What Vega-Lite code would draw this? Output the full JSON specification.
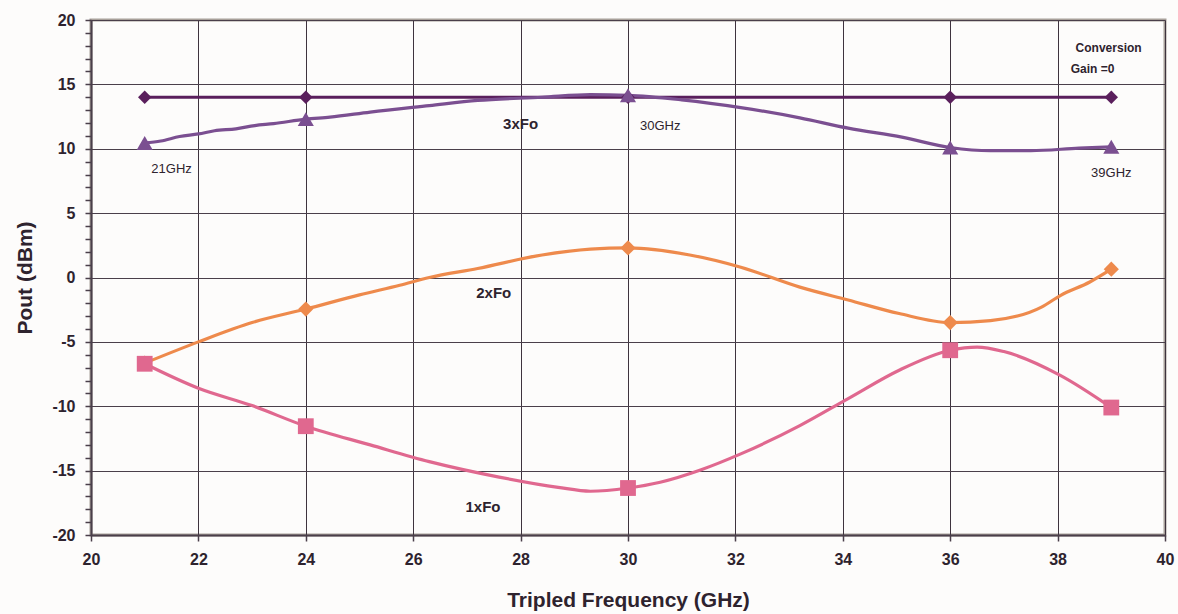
{
  "$schema": "https://vega.github.io/schema/vega-lite/v6.json",
  "width": 1074,
  "height": 515,
  "autosize": {"type": "none"},
  "padding": {"left": 91, "top": 20, "right": 13, "bottom": 79},
  "background": "#fdfcfb",
  "config": {
    "view": {"stroke": "#a8a09a", "strokeWidth": 3},
    "font": "Liberation Sans",
    "axis": {
      "labelFont": "Liberation Sans",
      "titleFont": "Liberation Sans",
      "labelFontWeight": "bold",
      "titleFontWeight": "bold",
      "labelFontSize": 16,
      "titleFontSize": 21,
      "labelColor": "#2e232e",
      "titleColor": "#2e232e",
      "labelFlush": false,
      "labelOverlap": false,
      "domainColor": "#4a3f4a",
      "domainWidth": 2,
      "tickColor": "#4a3f4a",
      "tickWidth": 1.5,
      "gridColor": "#4a3f4a",
      "gridWidth": 1
    }
  },
  "datasets": {
    "curves": [
      {"series": "Conversion Gain", "f": 21, "v": 14},
      {"series": "Conversion Gain", "f": 39, "v": 14},
      {"series": "3xFo", "f": 21, "v": 10.45},
      {"series": "3xFo", "f": 21.3, "v": 10.6},
      {"series": "3xFo", "f": 21.65, "v": 10.95},
      {"series": "3xFo", "f": 22.0, "v": 11.15},
      {"series": "3xFo", "f": 22.3, "v": 11.4},
      {"series": "3xFo", "f": 22.7, "v": 11.55},
      {"series": "3xFo", "f": 23.05, "v": 11.8},
      {"series": "3xFo", "f": 23.4, "v": 11.95},
      {"series": "3xFo", "f": 24, "v": 12.3},
      {"series": "3xFo", "f": 24.45, "v": 12.45},
      {"series": "3xFo", "f": 25.2, "v": 12.85},
      {"series": "3xFo", "f": 26.3, "v": 13.35},
      {"series": "3xFo", "f": 27.2, "v": 13.75},
      {"series": "3xFo", "f": 28.4, "v": 14.0},
      {"series": "3xFo", "f": 29.3, "v": 14.2},
      {"series": "3xFo", "f": 30, "v": 14.15},
      {"series": "3xFo", "f": 31, "v": 13.8},
      {"series": "3xFo", "f": 32.1, "v": 13.2},
      {"series": "3xFo", "f": 33.2, "v": 12.4},
      {"series": "3xFo", "f": 34.1, "v": 11.6},
      {"series": "3xFo", "f": 35.1, "v": 10.9},
      {"series": "3xFo", "f": 36, "v": 10.1},
      {"series": "3xFo", "f": 36.75, "v": 9.85},
      {"series": "3xFo", "f": 37.5, "v": 9.85},
      {"series": "3xFo", "f": 38.4, "v": 10.05},
      {"series": "3xFo", "f": 39, "v": 10.15},
      {"series": "2xFo", "f": 21, "v": -6.65},
      {"series": "2xFo", "f": 22, "v": -5.0},
      {"series": "2xFo", "f": 23, "v": -3.5},
      {"series": "2xFo", "f": 24, "v": -2.45},
      {"series": "2xFo", "f": 25, "v": -1.35},
      {"series": "2xFo", "f": 25.75, "v": -0.6},
      {"series": "2xFo", "f": 26.3, "v": 0.0},
      {"series": "2xFo", "f": 27.2, "v": 0.7},
      {"series": "2xFo", "f": 28.4, "v": 1.75},
      {"series": "2xFo", "f": 29.3, "v": 2.2},
      {"series": "2xFo", "f": 30, "v": 2.3},
      {"series": "2xFo", "f": 31.15, "v": 1.75},
      {"series": "2xFo", "f": 32.1, "v": 0.8},
      {"series": "2xFo", "f": 33.2, "v": -0.75},
      {"series": "2xFo", "f": 34.1, "v": -1.75},
      {"series": "2xFo", "f": 35.05, "v": -2.8},
      {"series": "2xFo", "f": 36, "v": -3.5},
      {"series": "2xFo", "f": 36.75, "v": -3.35},
      {"series": "2xFo", "f": 37.7, "v": -2.3},
      {"series": "2xFo", "f": 38.05, "v": -1.4},
      {"series": "2xFo", "f": 38.6, "v": -0.35},
      {"series": "2xFo", "f": 39, "v": 0.65},
      {"series": "1xFo", "f": 21, "v": -6.7},
      {"series": "1xFo", "f": 22, "v": -8.6},
      {"series": "1xFo", "f": 23, "v": -9.95},
      {"series": "1xFo", "f": 24, "v": -11.55},
      {"series": "1xFo", "f": 25.2, "v": -13.0},
      {"series": "1xFo", "f": 26.3, "v": -14.3},
      {"series": "1xFo", "f": 27.6, "v": -15.5},
      {"series": "1xFo", "f": 28.7, "v": -16.3},
      {"series": "1xFo", "f": 29.3, "v": -16.6},
      {"series": "1xFo", "f": 30, "v": -16.35},
      {"series": "1xFo", "f": 30.6, "v": -15.9},
      {"series": "1xFo", "f": 31.35, "v": -14.95},
      {"series": "1xFo", "f": 32.1, "v": -13.7},
      {"series": "1xFo", "f": 33.2, "v": -11.5},
      {"series": "1xFo", "f": 34.1, "v": -9.4},
      {"series": "1xFo", "f": 35.05, "v": -7.2},
      {"series": "1xFo", "f": 36, "v": -5.65},
      {"series": "1xFo", "f": 36.5, "v": -5.4},
      {"series": "1xFo", "f": 37.0, "v": -5.75},
      {"series": "1xFo", "f": 38.05, "v": -7.6},
      {"series": "1xFo", "f": 39, "v": -10.1}
    ],
    "markers": [
      {"series": "Conversion Gain", "f": 21, "v": 14},
      {"series": "Conversion Gain", "f": 24, "v": 14},
      {"series": "Conversion Gain", "f": 30, "v": 14},
      {"series": "Conversion Gain", "f": 36, "v": 14},
      {"series": "Conversion Gain", "f": 39, "v": 14},
      {"series": "3xFo", "f": 21, "v": 10.45},
      {"series": "3xFo", "f": 24, "v": 12.3},
      {"series": "3xFo", "f": 30, "v": 14.15},
      {"series": "3xFo", "f": 36, "v": 10.1},
      {"series": "3xFo", "f": 39, "v": 10.15},
      {"series": "2xFo", "f": 21, "v": -6.65},
      {"series": "2xFo", "f": 24, "v": -2.45},
      {"series": "2xFo", "f": 30, "v": 2.3},
      {"series": "2xFo", "f": 36, "v": -3.5},
      {"series": "2xFo", "f": 39, "v": 0.65},
      {"series": "1xFo", "f": 21, "v": -6.7},
      {"series": "1xFo", "f": 24, "v": -11.55},
      {"series": "1xFo", "f": 30, "v": -16.35},
      {"series": "1xFo", "f": 36, "v": -5.65},
      {"series": "1xFo", "f": 39, "v": -10.1}
    ],
    "labels": [
      {"text": "3xFo", "f": 28.0, "v": 11.9, "bold": true, "size": 15},
      {"text": "2xFo", "f": 27.5, "v": -1.2, "bold": true, "size": 15},
      {"text": "1xFo", "f": 27.3, "v": -17.8, "bold": true, "size": 15},
      {"text": "21GHz", "f": 21.5, "v": 8.4, "bold": false, "size": 13},
      {"text": "30GHz", "f": 30.6, "v": 11.8, "bold": false, "size": 13},
      {"text": "39GHz", "f": 39.0, "v": 8.1, "bold": false, "size": 13},
      {"text": "Conversion", "f": 38.95, "v": 17.8, "bold": true, "size": 12},
      {"text": "Gain =0", "f": 38.65, "v": 16.2, "bold": true, "size": 12}
    ]
  },
  "encoding": {
    "x": {
      "field": "f", "type": "quantitative",
      "scale": {"domain": [20, 40], "nice": false, "zero": false},
      "axis": {
        "title": "Tripled Frequency (GHz)",
        "values": [20, 22, 24, 26, 28, 30, 32, 34, 36, 38, 40],
        "tickSize": 6, "labelPadding": 10, "titlePadding": 22,
        "gridColor": "#3e333e"
      }
    },
    "y": {
      "field": "v", "type": "quantitative",
      "scale": {"domain": [-20, 20], "nice": false, "zero": false},
      "axis": {
        "title": "Pout (dBm)",
        "values": [-20,-19,-18,-17,-16,-15,-14,-13,-12,-11,-10,-9,-8,-7,-6,-5,-4,-3,-2,-1,0,1,2,3,4,5,6,7,8,9,10,11,12,13,14,15,16,17,18,19,20],
        "labelExpr": "datum.value % 5 === 0 ? '' + datum.value : ''",
        "gridOpacity": {"condition": {"test": "datum.value % 5 === 0", "value": 1}, "value": 0},
        "tickSize": 6, "labelPadding": 10, "titlePadding": 16
      }
    }
  },
  "layer": [
    {
      "data": {"name": "curves"},
      "mark": {"type": "line", "interpolate": "monotone", "strokeWidth": 3.2},
      "encoding": {
        "color": {
          "field": "series", "type": "nominal", "legend": null,
          "scale": {"domain": ["Conversion Gain", "3xFo", "2xFo", "1xFo"], "range": ["#5a1f5c", "#7b4f91", "#ee8a4c", "#e0688f"]}
        },
        "detail": {"field": "series"}
      }
    },
    {
      "data": {"name": "markers"},
      "transform": [{"filter": "datum.series === 'Conversion Gain'"}],
      "mark": {"type": "point", "filled": true, "opacity": 1, "shape": "diamond", "size": 180, "color": "#5a1f5c"},
      "encoding": {}
    },
    {
      "data": {"name": "markers"},
      "transform": [{"filter": "datum.series === '3xFo'"}],
      "mark": {"type": "point", "filled": true, "opacity": 1, "shape": "triangle-up", "size": 260, "color": "#7b4f91"},
      "encoding": {}
    },
    {
      "data": {"name": "markers"},
      "transform": [{"filter": "datum.series === '2xFo'"}],
      "mark": {"type": "point", "filled": true, "opacity": 1, "shape": "diamond", "size": 230, "color": "#ee8a4c"},
      "encoding": {}
    },
    {
      "data": {"name": "markers"},
      "transform": [{"filter": "datum.series === '1xFo'"}],
      "mark": {"type": "point", "filled": true, "opacity": 1, "shape": "square", "size": 250, "color": "#e0688f"},
      "encoding": {}
    },
    {
      "data": {"name": "labels"},
      "transform": [{"filter": "datum.bold"}],
      "mark": {"type": "text", "font": "Liberation Sans", "fontWeight": "bold", "color": "#2e232e", "align": "center", "baseline": "middle"},
      "encoding": {
        "text": {"field": "text"},
        "size": {"field": "size", "type": "quantitative", "scale": null}
      }
    },
    {
      "data": {"name": "labels"},
      "transform": [{"filter": "!datum.bold"}],
      "mark": {"type": "text", "font": "Liberation Sans", "color": "#2e232e", "align": "center", "baseline": "middle"},
      "encoding": {
        "text": {"field": "text"},
        "size": {"field": "size", "type": "quantitative", "scale": null}
      }
    }
  ]
}
